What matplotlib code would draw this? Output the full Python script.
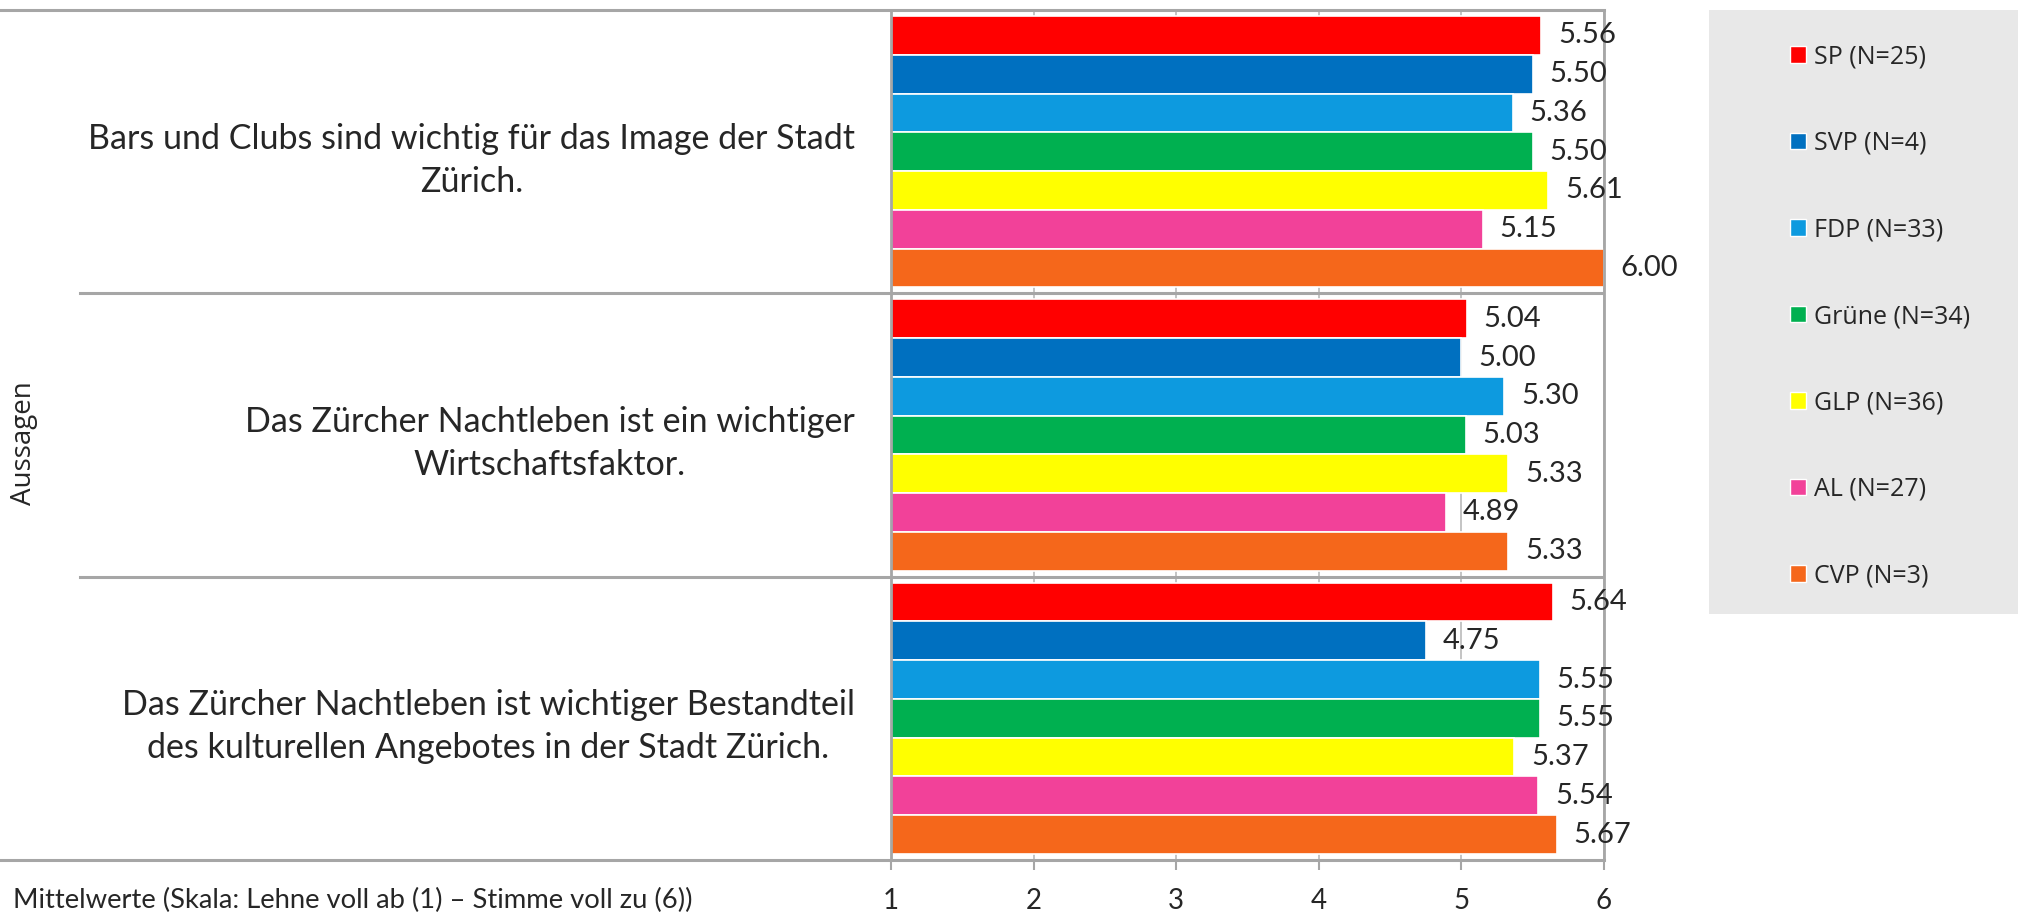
import matplotlib.pyplot as plt
import numpy as np
from matplotlib.lines import Line2D
from matplotlib.patches import Patch, Rectangle

# statements, top to bottom
statements = [
    "Bars und Clubs sind wichtig für das Image der Stadt\nZürich.",
    "Das Zürcher Nachtleben ist ein wichtiger\nWirtschaftsfaktor.",
    "Das Zürcher Nachtleben ist wichtiger Bestandteil\ndes kulturellen Angebotes in der Stadt Zürich.",
]
parties = ["SP (N=25)", "SVP (N=4)", "FDP (N=33)", "Grüne (N=34)",
           "GLP (N=36)", "AL (N=27)", "CVP (N=3)"]

sp = [5.56, 5.04, 5.64]
svp = [5.50, 5.00, 4.75]
fdp = [5.36, 5.30, 5.55]
gruene = [5.50, 5.03, 5.55]
glp = [5.61, 5.33, 5.37]
al = [5.15, 4.89, 5.54]
cvp = [6.00, 5.33, 5.67]
series = [sp, svp, fdp, gruene, glp, al, cvp]

colors = ["#FF0000", "#0070C0", "#0D9ADF", "#00B050", "#FFFF00", "#F24199", "#F5671B"]
ticks = [1, 2, 3, 4, 5, 6]
x_note = "Mittelwerte (Skala: Lehne voll ab (1) – Stimme voll zu (6))"

W, H = 2018, 915
fig = plt.figure(figsize=(W / 100, H / 100), dpi=100)
text_col = "#262626"
line_col = "#A6A6A6"
body_font = ["Lato", "DejaVu Sans"]
ui_font = ["Open Sans", "DejaVu Sans"]

ax_l, ax_r, ax_t, ax_b = 891, 1604, 10, 860
ax = fig.add_axes([ax_l / W, 1 - ax_b / H, (ax_r - ax_l) / W, (ax_b - ax_t) / H])

n = len(series)
group_w = 0.957
bar_h = group_w / n
ypos = np.arange(len(statements))[::-1]  # first statement on top

for i, (vals, c) in enumerate(zip(series, colors)):
    y = ypos + group_w / 2 - bar_h * (i + 0.5)
    bars = ax.barh(y, vals, height=bar_h, color=c, edgecolor="white", linewidth=1.2, zorder=2)
    ax.bar_label(bars, labels=[f"{v:.2f}" for v in vals], padding=12,
                 fontsize=21, color=text_col, family=body_font)

ax.set_xlim(1, 6)
ax.set_ylim(-0.5, len(statements) - 0.5)
ax.set_xticks(ticks)
ax.set_xticklabels([str(t) for t in ticks], fontsize=20, color=text_col, family=body_font)
ax.tick_params(axis="x", direction="out", length=7, width=1.5, color=line_col, pad=13)
ax.xaxis.grid(True, color="#BFBFBF", linewidth=1.3, zorder=0)
ax.set_axisbelow(True)

ax.set_yticks(ypos)
ax.set_yticklabels(statements, fontsize=24.5, color=text_col, family=body_font,
                   multialignment="center", linespacing=1.42)
ax.tick_params(axis="y", length=0, pad=26)

for s in ["left", "right"]:
    ax.spines[s].set_color(line_col)
    ax.spines[s].set_linewidth(2)
for s in ["top", "bottom"]:
    ax.spines[s].set_visible(False)

# category separators (Excel style multi-level axis)
for yb in [0.5, 1.5]:
    ax.axhline(yb, color=line_col, linewidth=2.2, zorder=3)
    yf = 1 - (ax_b - (yb + 0.5) / 3 * (ax_b - ax_t)) / H
    fig.add_artist(Line2D([80 / W, ax_l / W], [yf, yf], color=line_col, linewidth=2.2))
for yp in [ax_t, ax_b]:
    yf = 1 - yp / H
    fig.add_artist(Line2D([0, ax_r / W], [yf, yf], color=line_col, linewidth=2.2))

fig.text(24 / W, 1 - 443 / H, "Aussagen", rotation=90, ha="center", va="center",
         fontsize=20, color=text_col, family=ui_font)
fig.text(13 / W, 1 - 900 / H, x_note, ha="left", va="center",
         fontsize=19.7, color=text_col, family=body_font)

# legend box
fig.add_artist(Rectangle((1709 / W, 1 - 614 / H), (W - 1709) / W, 604 / H,
                         transform=fig.transFigure, facecolor="#E8E8E8", edgecolor="none"))
handles = [Patch(facecolor=c, edgecolor="white", linewidth=1) for c in colors]
fig.legend(handles, parties, loc="upper left", bbox_to_anchor=(1767 / W, 1 - 22 / H),
           frameon=False, labelcolor=text_col, prop={"family": ui_font, "size": 18},
           handlelength=0.64, handleheight=0.64, handletextpad=0.36, labelspacing=2.46)

fig.savefig("out.png", dpi=100)
